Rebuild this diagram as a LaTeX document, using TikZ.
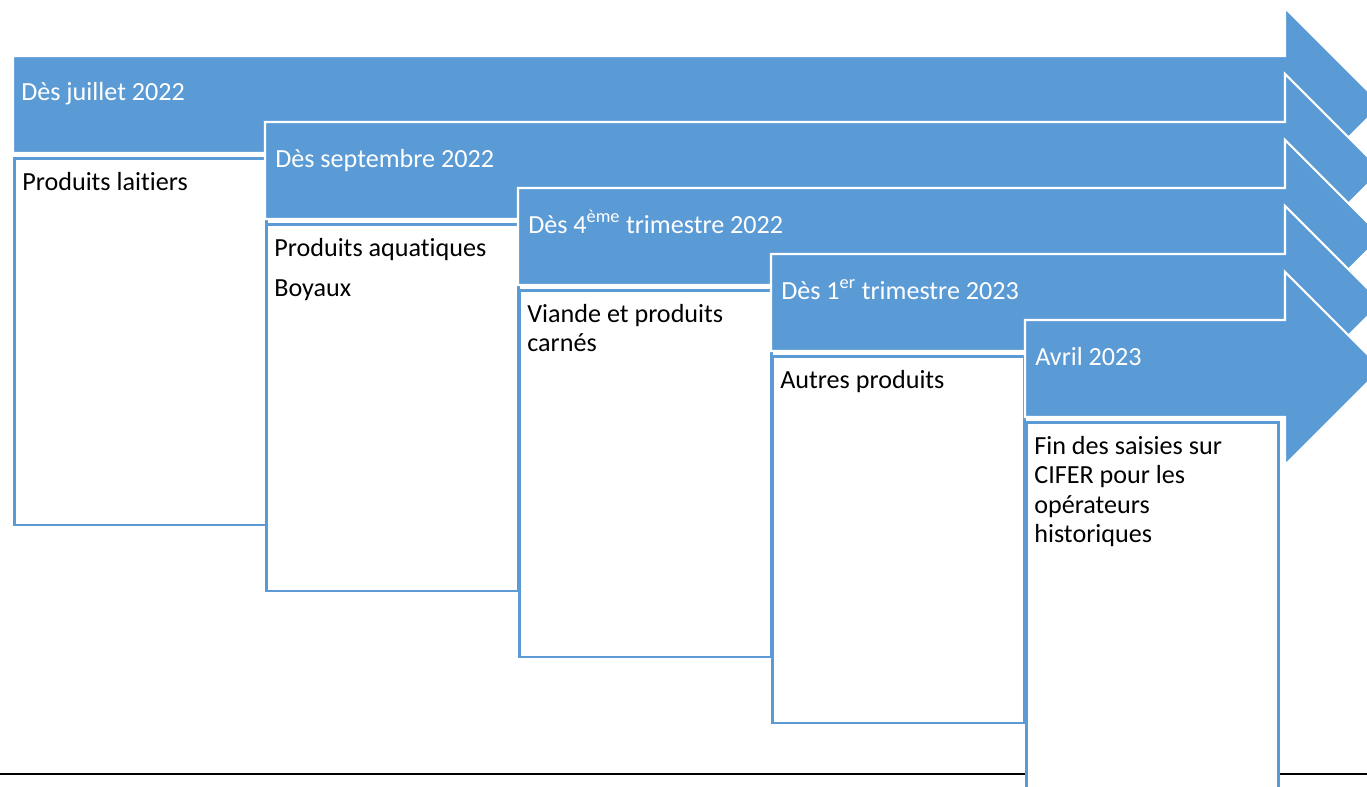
\documentclass[tikz,border=0pt]{standalone}
\usepackage{fontspec}
\setmainfont{Carlito}[Ligatures=NoCommon]
\definecolor{stepblue}{HTML}{5B9BD5}

\begin{document}
\begin{tikzpicture}[x=0.75pt, y=-0.75pt,
    steparrow/.style={fill=stepblue, draw=white, line width=1.6pt, line join=miter},
    datelabel/.style={anchor=base west, text=white, inner sep=0pt, font=\fontsize{19.6}{22}\selectfont},
    itembox/.style={anchor=north west, draw=stepblue, fill=white, line width=2pt, align=flush left,
        text width=177pt, inner xsep=6pt, inner ysep=5pt, text height=19pt, text depth=246pt,
        font=\fontsize{19.6}{22}\selectfont}]
    \useasboundingbox (0,0) rectangle (1367,786);
    \clip (0,0) rectangle (1367,786);

    % baseline
    \draw[line width=1.6pt] (0,774) -- (1367,774);

    % juillet 2022
    \filldraw[steparrow] (13,56) -- (1285,56) -- (1285,8) -- (1381.5,104.5) -- (1285,201) -- (1285,153) -- (13,153) -- cycle;
    \node[datelabel] (juillet) at (21,100) {Dès juillet 2022};
    \node[itembox] (laitiers) at (13,157) {Produits laitiers};

    % septembre 2022
    \filldraw[steparrow] (265,122) -- (1285,122) -- (1285,74) -- (1381.5,170.5) -- (1285,267) -- (1285,219) -- (265,219) -- cycle;
    \node[datelabel] (septembre) at (275,167) {Dès septembre 2022};
    \node[itembox] (aquatiques) at (265,223) {Produits aquatiques\\[8pt]Boyaux};

    % 4eme trimestre 2022
    \filldraw[steparrow] (518,188) -- (1285,188) -- (1285,140) -- (1381.5,236.5) -- (1285,333) -- (1285,285) -- (518,285) -- cycle;
    \node[datelabel] (quatrieme) at (528,233) {Dès 4\textsuperscript{ème} trimestre 2022};
    \node[itembox] (viande) at (518,289) {Viande et produits\\carnés};

    % 1er trimestre 2023
    \filldraw[steparrow] (771,254) -- (1285,254) -- (1285,206) -- (1381.5,302.5) -- (1285,399) -- (1285,351) -- (771,351) -- cycle;
    \node[datelabel] (premier) at (781,299) {Dès 1\textsuperscript{er} trimestre 2023};
    \node[itembox] (autres) at (771,355) {Autres produits};

    % avril 2023
    \filldraw[steparrow] (1025,320) -- (1285,320) -- (1285,272) -- (1381.5,368.5) -- (1285,465) -- (1285,417) -- (1025,417) -- cycle;
    \node[datelabel] (avril) at (1035,365) {Avril 2023};
    \node[itembox] (fin) at (1025,421) {Fin des saisies sur\\CIFER pour les\\opérateurs\\historiques};

\end{tikzpicture}
\end{document}
